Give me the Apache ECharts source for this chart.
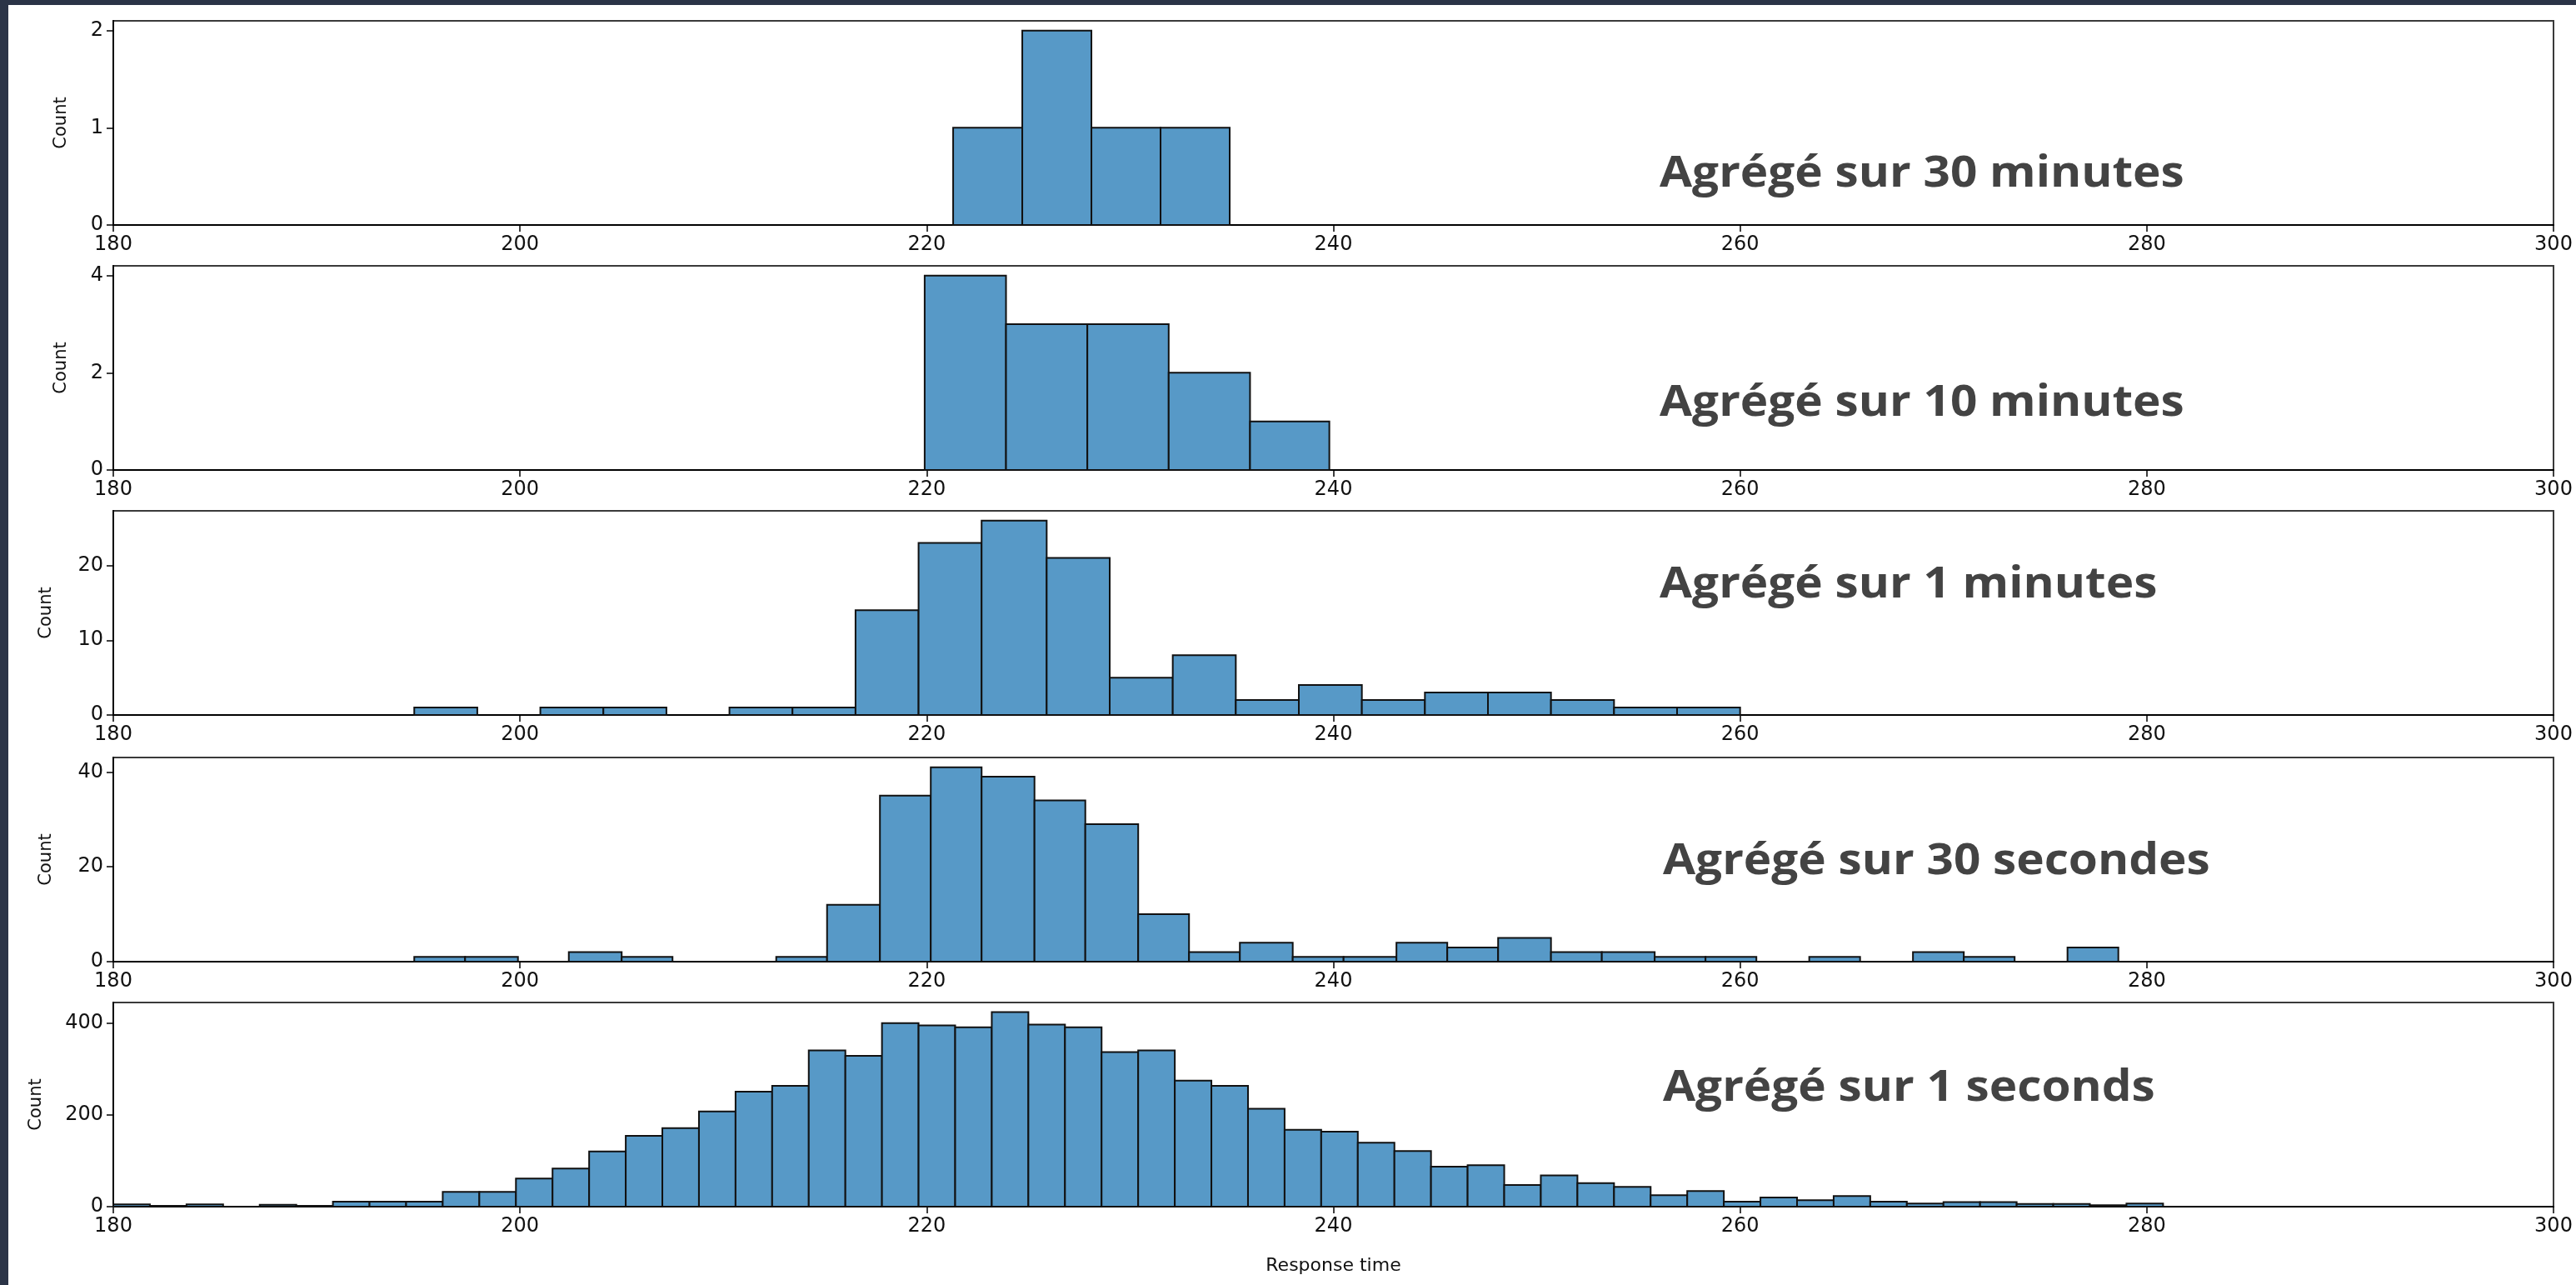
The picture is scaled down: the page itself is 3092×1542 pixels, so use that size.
<!DOCTYPE html>
<html><head><meta charset="utf-8">
<script src="https://cdn.jsdelivr.net/npm/echarts@6/dist/echarts.min.js"></script>
<style>
html,body{margin:0;padding:0;background:#2b3447;width:3092px;height:1542px;overflow:hidden}
#paper{position:absolute;left:10px;top:6px;right:0;bottom:0;background:#fff}
#chart{position:absolute;left:0;top:0;width:3092px;height:1542px}
</style></head><body><div id="paper"></div><div id="chart"></div>
<script>
// ---------- DATA ----------
const xTickLabels = [180, 200, 220, 240, 260, 280, 300];
const panelTitles = ['Agrégé sur 30 minutes', 'Agrégé sur 10 minutes', 'Agrégé sur 1 minutes', 'Agrégé sur 30 secondes', 'Agrégé sur 1 seconds'];

const edges30min = [221.3, 224.7, 228.1, 231.5, 234.9];
const counts30min = [1, 2, 1, 1];

const edges10min = [219.9, 223.9, 227.9, 231.9, 235.9, 239.8];
const counts10min = [4, 3, 3, 2, 1];

const edges1min = [194.8, 197.9, 201.0, 204.1, 207.2, 210.3, 213.4, 216.5, 219.6, 222.7, 225.9, 229.0, 232.1, 235.2, 238.3, 241.4, 244.5, 247.6, 250.7, 253.8, 256.9, 260.0];
const counts1min = [1, 0, 1, 1, 0, 1, 1, 14, 23, 26, 21, 5, 8, 2, 4, 2, 3, 3, 2, 1, 1];

const edges30s = [194.8, 197.3, 199.9, 202.4, 205.0, 207.5, 210.0, 212.6, 215.1, 217.7, 220.2, 222.7, 225.3, 227.8, 230.4, 232.9, 235.4, 238.0, 240.5, 243.1, 245.6, 248.1, 250.7, 253.2, 255.8, 258.3, 260.8, 263.4, 265.9, 268.5, 271.0, 273.5, 276.1, 278.6];
const counts30s = [1, 1, 0, 2, 1, 0, 0, 1, 12, 35, 41, 39, 34, 29, 10, 2, 4, 1, 1, 4, 3, 5, 2, 2, 1, 1, 0, 1, 0, 2, 1, 0, 3];

const edges1s = [180.0, 181.8, 183.6, 185.4, 187.2, 189.0, 190.8, 192.6, 194.4, 196.2, 198.0, 199.8, 201.6, 203.4, 205.2, 207.0, 208.8, 210.6, 212.4, 214.2, 216.0, 217.8, 219.6, 221.4, 223.2, 225.0, 226.8, 228.6, 230.4, 232.2, 234.0, 235.8, 237.6, 239.4, 241.2, 243.0, 244.8, 246.6, 248.4, 250.2, 252.0, 253.8, 255.6, 257.4, 259.2, 261.0, 262.8, 264.6, 266.4, 268.2, 270.0, 271.8, 273.6, 275.4, 277.2, 279.0, 280.8];
const counts1s = [5, 2, 5, 0, 4, 2, 11, 11, 11, 32, 32, 61, 83, 120, 154, 171, 207, 250, 263, 340, 328, 399, 394, 390, 423, 396, 390, 336, 340, 274, 263, 213, 167, 163, 139, 121, 87, 90, 47, 68, 51, 43, 25, 34, 11, 20, 14, 23, 11, 7, 10, 10, 6, 6, 3, 7];

const yAxisMax = [2.1, 4.2, 27.3, 43.05, 444];
const yTickValues = [[0, 1, 2], [0, 2, 4], [0, 10, 20], [0, 20, 40], [0, 200, 400]];

// ---------- LAYOUT ----------
const panels = [
  [edges30min, counts30min], [edges10min, counts10min], [edges1min, counts1min],
  [edges30s, counts30s], [edges1s, counts1s]
];
const gridTops = [25, 319, 613, 909, 1203];
const gridH = 245, gridLeft = 136, gridRight = 27;
const titleX = [1992, 1992, 1992, 1996, 1996];
const titleY = [209, 484, 702, 1034, 1306];
const yNameGap = [52, 52, 70, 70, 82];
const tickFont = 'DejaVu Sans';

const chart = echarts.init(document.getElementById('chart'), null, {renderer: 'canvas'});

const grids = gridTops.map(t => ({
  left: gridLeft, right: gridRight, top: t, height: gridH,
  show: true, borderColor: '#3a3a3a', borderWidth: 2, backgroundColor: 'transparent'
}));

const xAxes = gridTops.map((t, i) => ({
  type: 'value', gridIndex: i, min: xTickLabels[0], max: xTickLabels[xTickLabels.length - 1], interval: 20,
  axisLine: {show: true, onZero: false, lineStyle: {color: '#000', width: 2}},
  axisTick: {show: true, length: 8, lineStyle: {color: '#000', width: 1.5}},
  axisLabel: {color: '#111', fontSize: 24, fontFamily: tickFont, margin: 12},
  splitLine: {show: false},
  name: i === 4 ? 'Response time' : '',
  nameLocation: 'middle', nameGap: 60,
  nameTextStyle: {color: '#111', fontSize: 22, fontFamily: tickFont}
}));

const yAxes = gridTops.map((t, i) => ({
  type: 'value', gridIndex: i, min: 0, max: yAxisMax[i],
  axisLine: {show: true, lineStyle: {color: '#000', width: 2}},
  axisTick: {show: true, length: 8, customValues: yTickValues[i], lineStyle: {color: '#000', width: 1.5}},
  axisLabel: {color: '#111', fontSize: 24, fontFamily: tickFont, margin: 12, customValues: yTickValues[i]},
  splitLine: {show: false},
  name: 'Count', nameLocation: 'middle', nameRotate: 90, nameGap: yNameGap[i], nameMoveOverlap: false,
  nameTextStyle: {color: '#111', fontSize: 21, fontFamily: tickFont}
}));

const series = panels.map(([edges, counts], i) => ({
  type: 'custom', xAxisIndex: i, yAxisIndex: i,
  data: counts.map((c, k) => [edges[k], edges[k + 1], c]),
  encode: {x: [0, 1], y: 2},
  renderItem: function (params, api) {
    const v = api.value(2);
    if (!v) return null;
    const p0 = api.coord([api.value(0), v]);
    const p1 = api.coord([api.value(1), 0]);
    return {
      type: 'rect',
      shape: {x: p0[0], y: p0[1], width: p1[0] - p0[0], height: p1[1] - p0[1]},
      style: {fill: '#5799c7', stroke: '#111', lineWidth: 2}
    };
  }
}));

const graphics = panelTitles.map((t, i) => ({
  type: 'text', x: titleX[i], y: titleY[i], z: 10, scaleX: 1.09, scaleY: 1,
  style: {text: t, fontSize: 52, fontWeight: 'bold', fontFamily: '"Open Sans"', fill: '#434343', align: 'left', verticalAlign: 'middle'}
}));

chart.setOption({
  animation: false,
  backgroundColor: 'transparent',
  grid: grids, xAxis: xAxes, yAxis: yAxes, series: series, graphic: graphics
});
</script></body></html>
